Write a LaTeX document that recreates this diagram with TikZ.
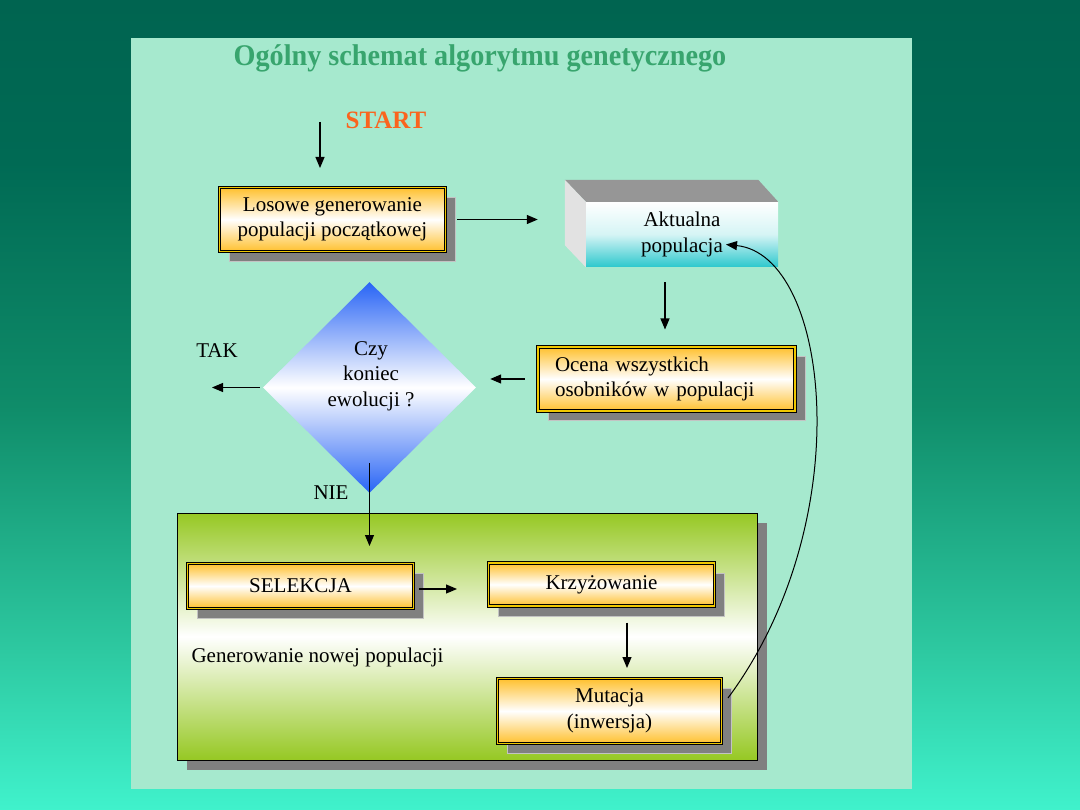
\documentclass[tikz,border=0pt]{standalone}
\usepackage{fontspec}
\usepackage{graphicx}
\setmainfont{Liberation Serif}
\usetikzlibrary{arrows.meta,shapes.geometric,shadows}
\definecolor{bgtop}{RGB}{0,100,80}
\definecolor{bgtopb}{RGB}{0,106,84}
\definecolor{bgmid}{RGB}{15,140,105}
\definecolor{bgmidb}{RGB}{45,200,160}
\definecolor{bgbot}{RGB}{64,242,204}
\definecolor{panel}{RGB}{166,233,206}
\definecolor{titlegreen}{RGB}{56,165,110}
\definecolor{startorange}{RGB}{250,100,30}
\definecolor{boxorange}{RGB}{255,192,45}
\definecolor{boxyellow}{RGB}{240,200,0}
\definecolor{shadowgray}{RGB}{128,128,128}
\definecolor{shadowedge}{RGB}{195,195,195}
\definecolor{turq}{RGB}{45,200,205}
\definecolor{topgray}{RGB}{150,150,150}
\definecolor{sidegray}{RGB}{226,226,226}
\definecolor{dblue}{RGB}{40,100,245}
\definecolor{ygreen}{RGB}{150,200,35}
\pgfdeclareverticalshading{bgshade}{100bp}{color(0bp)=(bgbot); color(25bp)=(bgbot); color(35bp)=(bgmidb); color(50bp)=(bgmid); color(65bp)=(bgtopb); color(75bp)=(bgtop); color(100bp)=(bgtop)}
\newcommand\myfnt{\fontsize{21}{25.5}\selectfont}
\begin{document}
\begin{tikzpicture}[x=1pt,y=-1pt,
  tip/.style={-{Triangle[length=11pt,width=9pt]}},
  arr/.style={tip, line width=1.2pt, draw=black},
  box/.style={rectangle, draw=black, line width=1pt, double=boxyellow, double distance=1.6pt,
    top color=boxorange, bottom color=boxorange, middle color=white, inner sep=0pt,
    font=\myfnt, align=center,
    general shadow={fill=shadowgray, draw=shadowedge, line width=1pt, shadow xshift=10pt, shadow yshift=-10pt}},
  gbox/.style={rectangle, draw=black, line width=0.8pt, top color=ygreen, bottom color=ygreen, middle color=white,
    general shadow={fill=shadowgray, draw=none, shadow xshift=10pt, shadow yshift=-10pt}},
  front/.style={rectangle, inner sep=0pt, top color=white, bottom color=turq, middle color=white!80!turq, font=\myfnt, align=center},
  lbl/.style={font=\myfnt, align=center}]
\useasboundingbox (0,0) rectangle (1080,810);
\fill[shading=bgshade] (0,0) rectangle (1080,810);
\fill[panel] (131,38) rectangle (912,789);

\node[font=\bfseries\fontsize{30}{34}\selectfont, text=titlegreen] (title) at (480,58) {\scalebox{0.94}[1]{Ogólny schemat algorytmu genetycznego}};
\node[font=\bfseries\fontsize{25}{30}\selectfont, text=startorange] (start) at (386,120) {START};

\node[box, minimum width=226, minimum height=64] (b1) at (332.5,219.5) {Losowe generowanie\\populacji początkowej};

\node[front, minimum width=192, minimum height=65] (akt) at (682,234.5) {Aktualna\\populacja};
\fill[topgray] (akt.north west) -- ++(-21,-22) -- ([shift={(-20,-22)}]akt.north east) -- (akt.north east) -- cycle;
\fill[sidegray] (akt.north west) -- ++(-21,-22) -- ([shift={(-21,-22)}]akt.south west) -- (akt.south west) -- cycle;

\node[box, minimum width=257, minimum height=64, text width=223, align=left] (oc) at (666.5,379) {Ocena wszystkich\\osobników w populacji};

\node[diamond, minimum width=213, minimum height=211, inner sep=0pt, top color=dblue, bottom color=dblue, middle color=white] (dm) at (369.5,387.5) {};
\node[lbl] (dmt) at (371,376) {Czy\\koniec\\ewolucji ?};
\node[lbl] (tak) at (217,351) {TAK};
\node[lbl] (nie) at (331,493) {NIE};

\node[gbox, minimum width=580, minimum height=247] (gr) at (467,636.5) {};
\node[box, minimum width=226, minimum height=45] (sel) at (300.5,586) {SELEKCJA};
\node[box, minimum width=226, minimum height=43] (kr) at (601.5,584.5) {Krzyżowanie};
\node[box, minimum width=224, minimum height=65] (mu) at (609.5,711) {Mutacja\\(inwersja)};
\node[font=\myfnt, anchor=west] (gen) at (188,657) {Generowanie nowej populacji};

\coordinate (s0) at (320,122);
\coordinate (takend) at (212,387.5);
\draw[arr, shorten >=19pt] (s0) -- (s0 |- b1.north);
\draw[arr, shorten <=11pt, shorten >=48pt] (b1.east) -- (b1.east -| akt.west);
\draw[arr, shorten <=15pt, shorten >=17pt] ([xshift=-17pt]akt.south) -- ([xshift=-17pt]akt.south |- oc.north);
\draw[arr, shorten <=13pt, shorten >=14pt] (oc.west) -- (oc.west -| dm.east);
\draw[arr, shorten <=3pt] (dm.west) -- (takend);
\draw[arr, shorten >=17pt] ([yshift=30pt]dm.south) -- (dm.south |- sel.north);
\draw[arr, shorten <=5pt, shorten >=31pt] ([yshift=-3pt]sel.east) -- ([yshift=-3pt]sel.east -| kr.west);
\draw[arr, shorten <=16pt, shorten >=10pt] ([xshift=25.5pt]kr.south) -- ([xshift=25.5pt]kr.south |- mu.north);
\draw[tip, line width=1pt] ([shift={(6,-13)}]mu.east) .. controls (860,520) and (830,255) .. ([shift={(44,10)}]akt.center);
\end{tikzpicture}
\end{document}
